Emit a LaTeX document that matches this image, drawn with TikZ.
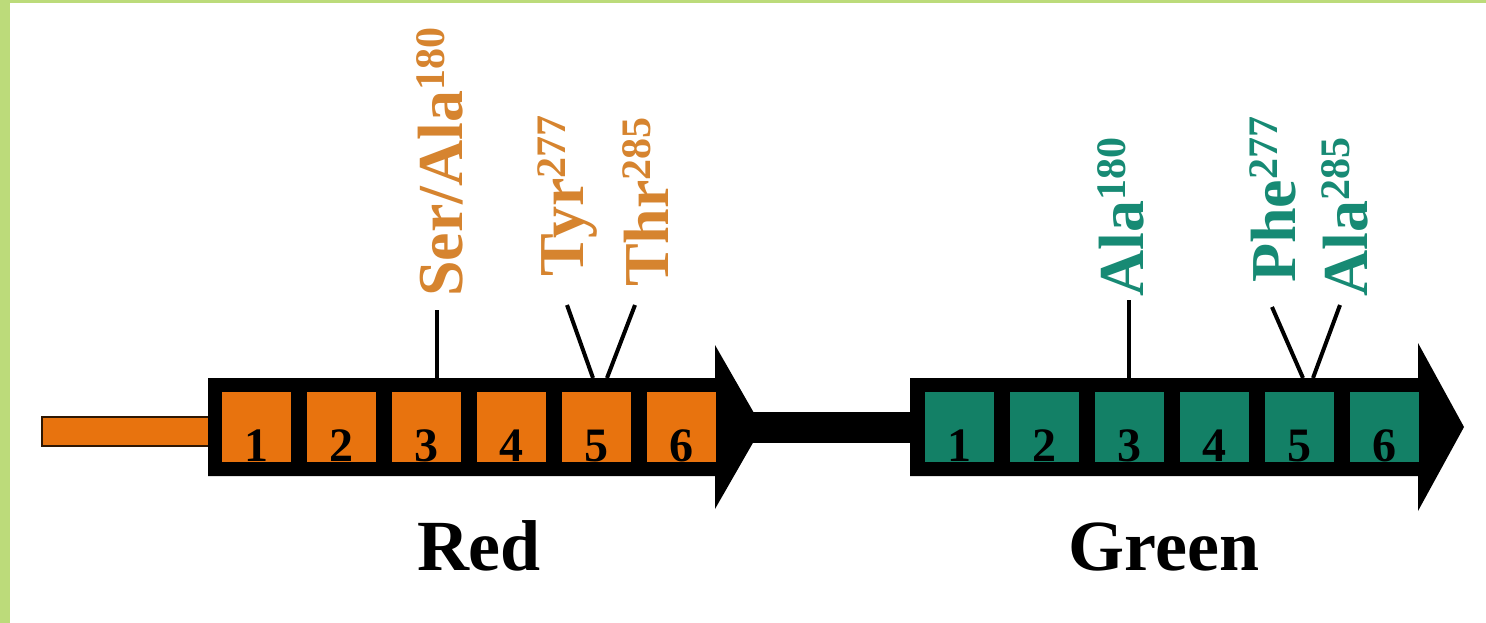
\documentclass[tikz,border=0pt]{standalone}
\usepackage{fontspec}
\setmainfont{Liberation Serif}
\definecolor{bordergreen}{HTML}{BCDB7A}
\definecolor{orfill}{HTML}{E8730E}
\definecolor{grfill}{HTML}{138066}
\definecolor{orlab}{HTML}{D6842F}
\definecolor{grlab}{HTML}{178A74}
\newcommand\mysup[1]{\raisebox{18pt}{\fontsize{42}{42}\selectfont #1}}
\begin{document}
\begin{tikzpicture}[x=1pt,y=-1pt,
  lab/.style={rotate=90, anchor=base west, inner sep=0pt, font=\fontsize{64}{64}\selectfont\bfseries},
  rsq/.style={draw=none, fill=orfill, minimum width=69pt, minimum height=70pt, inner sep=0pt},
  gsq/.style={draw=none, fill=grfill, minimum width=69pt, minimum height=70pt, inner sep=0pt},
  digit/.style={anchor=base, inner sep=0pt, font=\fontsize{48}{48}\selectfont\bfseries, text=black},
  title/.style={anchor=base, inner sep=0pt, font=\fontsize{72}{72}\selectfont\bfseries, text=black},
  tick/.style={line width=4pt, black}]
\useasboundingbox (0,0) rectangle (1486,623);
\fill[white] (0,0) rectangle (1486,623);
\fill[bordergreen] (0,0) rectangle (10,623);
\fill[bordergreen] (0,0) rectangle (1486,3);
% leader
\draw[fill=orfill, draw=black!80!orfill, line width=1.5pt] (42,417) rectangle (210,446);
% connecting bar
\fill[black] (740,412) rectangle (912,443);
% gene bodies
\fill[black] (208,378) -- (715,378) -- (715,345) -- (762,427) -- (715,509) -- (715,476) -- (208,476) -- cycle;
\fill[black] (910,378) -- (1418,378) -- (1418,343) -- (1464,427) -- (1418,511) -- (1418,476) -- (910,476) -- cycle;
% squares
\foreach \i in {1,...,6} {
  \pgfmathsetmacro\rx{222+85*(\i-1)+34.5}
  \pgfmathsetmacro\gx{925+85*(\i-1)+34.5}
  \node[rsq] (r\i) at (\rx,427) {};
  \node[digit] (rd\i) at (\rx,461) {\i};
  \node[gsq] (g\i) at (\gx,427) {};
  \node[digit] (gd\i) at (\gx,461) {\i};
}
% labels
\node[lab, text=orlab] (ser) at (462,297) {Ser/Ala\mysup{180}};
\node[lab, text=orlab] (tyr) at (583,277) {Tyr\mysup{277}};
\node[lab, text=orlab] (thr) at (668,287) {Thr\mysup{285}};
\node[lab, text=grlab] (ala1) at (1143,297) {Ala\mysup{180}};
\node[lab, text=grlab] (phe) at (1295,283) {Phe\mysup{277}};
\node[lab, text=grlab] (ala2) at (1367,297) {Ala\mysup{285}};
% connectors
\coordinate (serT) at (437,310); \coordinate (serB) at (437,378);
\coordinate (tyrT) at (567,305); \coordinate (tyrB) at (593,378);
\coordinate (thrT) at (635,305); \coordinate (thrB) at (607,378);
\coordinate (a1T) at (1129,300); \coordinate (a1B) at (1129,378);
\coordinate (pheT) at (1272,307); \coordinate (pheB) at (1303,378);
\coordinate (a2T) at (1340,305); \coordinate (a2B) at (1313,378);
\draw[tick] (serT) -- (serB);
\draw[tick] (tyrT) -- (tyrB);
\draw[tick] (thrT) -- (thrB);
\draw[tick] (a1T) -- (a1B);
\draw[tick] (pheT) -- (pheB);
\draw[tick] (a2T) -- (a2B);
% titles
\node[title] (red) at (479,570) {Red};
\node[title] (green) at (1164,570) {Green};
\end{tikzpicture}
\end{document}
